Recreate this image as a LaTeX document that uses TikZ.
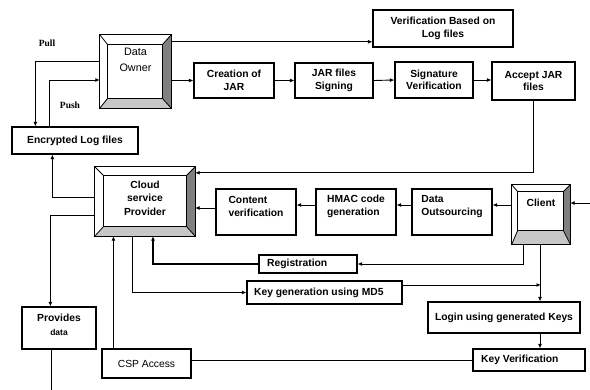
\documentclass[tikz,border=0pt]{standalone}
\usepackage{fontspec}
\setmainfont{Liberation Sans}
\newfontfamily\serifb{Liberation Serif}
\usetikzlibrary{arrows.meta}
\tikzset{
  box/.style={draw, line width=1.2pt, fill=white, inner sep=0pt, font=\bfseries\fontsize{10.3}{12.5}\selectfont, align=center},
  txt/.style={inner sep=0pt, font=\bfseries\fontsize{10.3}{13.5}\selectfont, align=center},
  arr/.style={line width=0.9pt, -{Latex[length=4.5pt,width=4pt]}},
  ln/.style={line width=0.9pt},
}
\newcommand\mybevel[5]{%
  \coordinate (iNW) at ([shift={(#2,#3)}]#1.north west);
  \coordinate (iNE) at ([shift={(-#4,#3)}]#1.north east);
  \coordinate (iSE) at ([shift={(-#4,-#5)}]#1.south east);
  \coordinate (iSW) at ([shift={(#2,-#5)}]#1.south west);
  \fill[white] (#1.north west) rectangle (#1.south east);
  \fill[black!50] (#1.north east) -- (#1.south east) -- (iSE) -- (iNE) -- cycle;
  \fill[black!22] (#1.south west) -- (#1.south east) -- (iSE) -- (iSW) -- cycle;
  \draw[line width=0.8pt] (iNW) rectangle (iSE);
  \draw[line width=0.8pt] (#1.north west) -- (iNW) (#1.north east) -- (iNE)
     (#1.south east) -- (iSE) (#1.south west) -- (iSW);
  \draw[line width=1.3pt] (#1.north west) rectangle (#1.south east);
}
\begin{document}
\begin{tikzpicture}[x=1pt,y=-1pt]
\useasboundingbox[fill=white] (0,0) rectangle (590,390);

% bevel boxes
\node[minimum width=71pt, minimum height=73pt, inner sep=0pt] (DO) at (135.5,71.5) {};
\mybevel{DO}{8}{10}{9}{10}
\node[txt, font=\fontsize{10.8}{16}\selectfont] (DOt) at (135.5,60) {Data\\Owner};

\node[minimum width=100pt, minimum height=69pt, inner sep=0pt] (CSP) at (145,201.5) {};
\mybevel{CSP}{9}{9}{9}{10}
\node[txt] (CSPt) at (145,198) {Cloud\\service\\Provider};

\node[minimum width=58pt, minimum height=59pt, inner sep=0pt] (Client) at (541,214.5) {};
\mybevel{Client}{6}{7}{7}{14}
\node[txt] (Clientt) at (541,202.5) {Client};

% plain boxes
\node[box, minimum width=140pt, minimum height=37pt] (VBLF) at (443,28.5) {Verification Based on\\Log files};
\node[box, minimum width=80pt, minimum height=35pt] (CJ) at (234,80.5) {Creation of\\JAR};
\node[box, minimum width=78pt, minimum height=35pt] (JS) at (334,80.5) {JAR files\\Signing};
\node[box, minimum width=78pt, minimum height=36pt] (SV) at (434,80) {Signature\\Verification};
\node[box, minimum width=83pt, minimum height=38pt] (AJ) at (533.5,81) {Accept JAR\\files};
\node[box, minimum width=126pt, minimum height=27pt] (ELF) at (75,140.5) {Encrypted Log files};

\node[box, minimum width=80pt, minimum height=46pt] (CV) at (256,212) {};
\node[txt, align=left] (CVt) at (256,206.5) {Content\\verification};
\node[box, minimum width=80pt, minimum height=46pt] (HM) at (356,212) {};
\node[txt, align=left] (HMt) at (356,206.5) {HMAC code\\generation};
\node[box, minimum width=80pt, minimum height=46pt] (DS) at (452,212) {};
\node[txt, align=left] (DSt) at (452,206.5) {Data\\Outsourcing};

\node[box, minimum width=98pt, minimum height=18pt] (Reg) at (308,264) {};
\node[txt, anchor=west] (Regt) at (267,264) {Registration};
\node[box, minimum width=155pt, minimum height=23pt] (KG) at (324.5,292.5) {};
\node[txt, anchor=west] (KGt) at (254,292.5) {Key generation using MD5};
\node[box, minimum width=152pt, minimum height=31pt] (LG) at (504,317.5) {Login using generated Keys};
\node[box, minimum width=112pt, minimum height=22pt] (KV) at (529,360) {};
\node[txt, anchor=west] (KVt) at (481,360) {Key Verification};
\node[box, minimum width=74pt, minimum height=42pt] (PD) at (59,328) {};
\node[txt] (PDt) at (59,325) {Provides\\[0pt]{\fontsize{8.5}{9}\selectfont data}};
\node[box, minimum width=89pt, minimum height=29pt, font=\fontsize{10.3}{12}\selectfont] (CA) at (146.5,363.5) {CSP Access};

% labels
\node[font=\serifb\bfseries\fontsize{9.5}{11}\selectfont] (pull) at (47,43) {Pull};
\node[font=\serifb\bfseries\fontsize{9.5}{11}\selectfont] (push) at (70,105) {Push};

% connectors top
\draw[arr] ([yshift=-7pt]DO.north east) -- ([yshift=-7pt]DO.north east -| VBLF.west);
\draw[arr] (CJ.west -| DO.east) -- (CJ.west);
\draw[arr] (CJ.east) -- (JS.west);
\draw[arr] (JS.east) -- (SV.west);
\draw[arr] (SV.east) -- (SV.east -| AJ.west);
\draw[arr] (AJ.south) |- ([yshift=-6pt]CSP.north east);
\draw[arr] ([yshift=10.5pt]DO.west) -| ([xshift=24pt]ELF.north west);
\draw[arr] ([xshift=38pt]ELF.north west) |- ([yshift=-8.5pt]DO.west);
\draw[arr] ([yshift=4.5pt]CSP.west) -| ([xshift=41pt]ELF.south west);
\draw[arr] ([yshift=-13.5pt]CSP.west) -| ([xshift=29pt]PD.north west);
\coordinate (pdend) at (51,390);
\draw[ln] (PD.south -| pdend) -- (pdend);

% middle row
\coordinate (row) at (0,205);
\coordinate (cin) at (590,203);
\draw[arr] (cin) -- (cin -| Client.east);
\draw[arr] (Client.west |- row) -- (DS.east |- row);
\draw[arr] (DS.west |- row) -- (HM.east |- row);
\draw[arr] (HM.west |- row) -- (CV.east |- row);
\draw[arr] ([yshift=-3pt]CV.west |- row) -- ([yshift=-3pt]CSP.east |- row);

% lower
\draw[arr] ([xshift=-18pt]Client.south) |- (Reg.east);
\draw[arr, line width=1.4pt] (Reg.west) -| ([xshift=8pt]CSP.south);
\draw[arr] ([xshift=-13pt]CSP.south) |- (KG.west);
\draw[arr] ([xshift=-1pt]Client.south) -- ([xshift=-1pt]Client.south |- LG.north);
\draw[arr] ([yshift=7.5pt]KG.east) -- ([yshift=7.5pt]KG.east -| Client.south);
\draw[arr] ([xshift=-1pt]Client.south |- LG.south) -- ([xshift=-1pt]Client.south |- KV.north);
\draw[ln] (KV.west) -- (KV.west -| CA.east);
\coordinate (ca1) at ([xshift=12pt]CA.north west);
\draw[arr] (ca1) -- (ca1 |- CSP.south);
\end{tikzpicture}
\end{document}
